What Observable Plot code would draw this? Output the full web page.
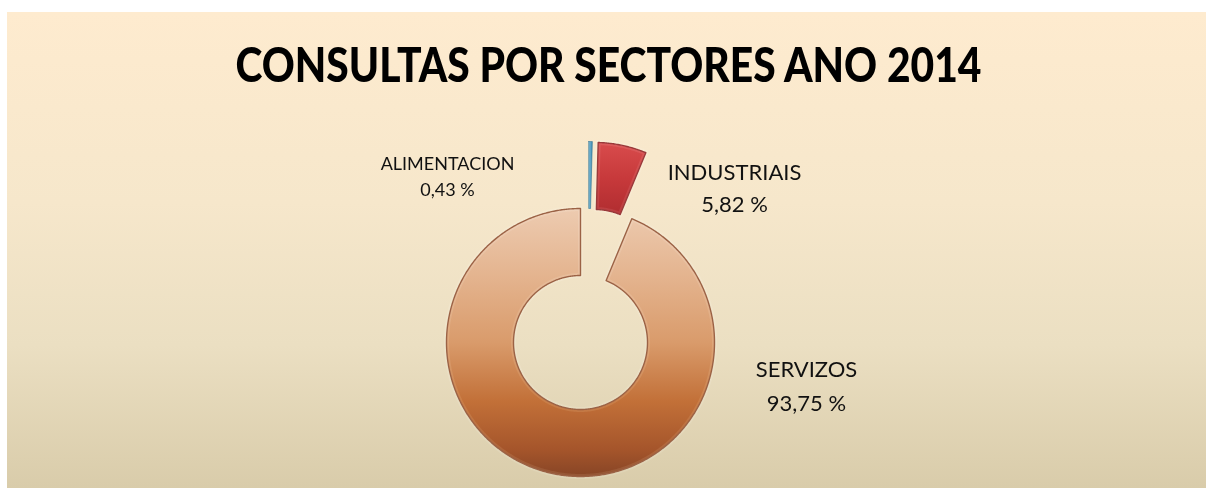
<!DOCTYPE html>
<html><head><meta charset="utf-8">
<script src="https://cdn.jsdelivr.net/npm/d3@7"></script>
<script src="https://cdn.jsdelivr.net/npm/@observablehq/plot@0.6"></script>
<style>
html,body{margin:0;padding:0;background:#fff;}
#wrap{padding:12px 0 0 7px;width:1199px;height:476px;}
</style></head><body><div id="wrap"></div>
<script>
// ---- data ----
const title = "CONSULTAS POR SECTORES ANO 2014";
const sectors = ["ALIMENTACION", "INDUSTRIAIS", "SERVIZOS"];
const shares = [0.43, 5.82, 93.75];
const shareLabels = ["0,43 %", "5,82 %", "93,75 %"];

// ---- layout / style ----
const W = 1206, H = 488, padLeft = 7, padTop = 12;
const cx = 580, cy = 342, R = 134, r = 67;
const explodedSectors = new Set(["ALIMENTACION", "INDUSTRIAIS"]);
const explodeDist = 67.5, minExplodeAngle = 7 * Math.PI / 180;
const fills = ["url(#gAli)", "url(#gInd)", "url(#gSer)"];
const strokes = ["#2e6f8e", "#8e2a2b", "#8f5235"];
const labelLayout = [ // offsets from donut centre, first-line baseline, font size, line gap
  {dx: -133, dy: -173, size: 18, gap: 26},
  {dx: 154, dy: -163, size: 22, gap: 32.5},
  {dx: 226, dy: 34, size: 22, gap: 34}
];

const total = d3.sum(shares);
let acc = 0;
const slices = sectors.map((name, i) => {
  const a0 = acc / total * 2 * Math.PI; acc += shares[i];
  const a1 = acc / total * 2 * Math.PI;
  return {name, i, a0, a1};
});
const pts = [];
for (const s of slices) {
  const mid = (s.a0 + s.a1) / 2;
  const ex = explodedSectors.has(s.name) ? explodeDist : 0;
  const ea = Math.max(mid, minExplodeAngle);
  const ox = ex * Math.sin(ea), oy = -ex * Math.cos(ea);
  const n = Math.max(2, Math.ceil((s.a1 - s.a0) / (Math.PI / 360)));
  const ring = [];
  for (let k = 0; k <= n; k++) ring.push([s.a0 + (s.a1 - s.a0) * k / n, R]);
  for (let k = n; k >= 0; k--) ring.push([s.a0 + (s.a1 - s.a0) * k / n, r]);
  ring.push(ring[0]);
  ring.forEach(([a, rad], j) => pts.push({name: s.name, j, x: cx + ox + rad * Math.sin(a), y: cy + oy - rad * Math.cos(a)}));
}
const labels = [];
sectors.forEach((name, i) => {
  const L = labelLayout[i];
  labels.push({text: name, x: cx + L.dx, y: cy + L.dy, size: L.size});
  labels.push({text: shareLabels[i], x: cx + L.dx, y: cy + L.dy + L.gap, size: L.size});
});

const plot = Plot.plot({
  width: W - padLeft, height: H - padTop,
  margin: 0,
  x: {domain: [padLeft, W], range: [0, W - padLeft], axis: null},
  y: {domain: [padTop, H], range: [0, H - padTop], axis: null},
  style: {background: "linear-gradient(to bottom, #FEEBCF 0%, #F6E7CB 40%, #EBDFC2 70%, #D9CCAA 100%)", fontFamily: "Lato, sans-serif", overflow: "visible"},
  marks: [
    ...slices.map((s, i) => Plot.line(pts.filter(d => d.name === s.name), {x: "x", y: "y", fill: fills[i], stroke: strokes[i], strokeWidth: i === 0 ? 0.6 : 1.4, curve: "linear", strokeLinejoin: "round"})),
    // soft inner bevel highlight
    ...slices.slice(1).map((s, i) => Plot.line(pts.filter(d => d.name === s.name), {x: "x", y: "y", fill: "none", stroke: "#fff", strokeOpacity: 0.25, strokeWidth: 5, curve: "linear", strokeLinejoin: "round", clip: false, mixBlendMode: "soft-light"})),
    Plot.text(labels, {x: "x", y: "y", text: "text", fontSize: d => d.size, lineAnchor: "bottom", textAnchor: "middle", fill: "#111"}),
    Plot.text([title], {x: () => 608, y: () => 81, text: d => d, fontSize: 48, fontWeight: 900, lineAnchor: "bottom", textAnchor: "middle", fill: "#000"})
  ]
});

const svg = d3.select(plot);
const defs = svg.insert("defs", ":first-child");
function grad(id, stops, x2 = 0, y2 = 1) {
  const g = defs.append("linearGradient").attr("id", id).attr("x1", 0).attr("y1", 0).attr("x2", x2).attr("y2", y2);
  stops.forEach(([o, c]) => g.append("stop").attr("offset", o).attr("stop-color", c));
}
grad("gSer", [[0, "#EDCBB0"], [0.25, "#E4B48F"], [0.5, "#D99B6B"], [0.72, "#C27038"], [0.9, "#A5552B"], [1, "#874526"]]);
grad("gInd", [[0, "#D84C4C"], [0.5, "#C7393B"], [1, "#B02D30"]]);
grad("gAli", [[0, "#7FBBD6"], [1, "#3F8DB3"]], 1, 0);
svg.selectAll("text").filter(function() { return this.textContent === title; })
  .attr("textLength", 746).attr("lengthAdjust", "spacingAndGlyphs");
document.getElementById("wrap").appendChild(plot);
</script></body></html>
